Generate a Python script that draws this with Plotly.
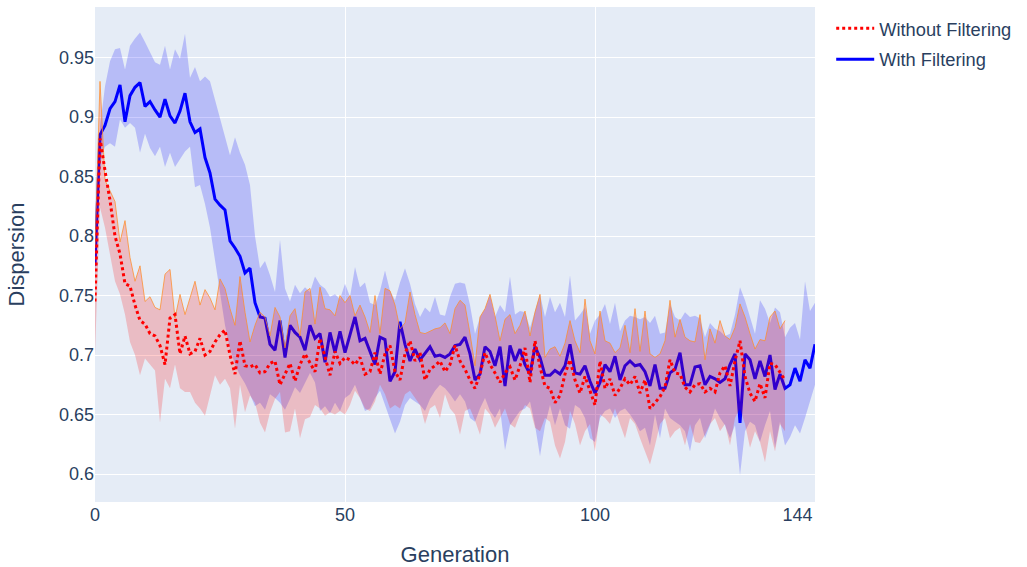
import plotly.graph_objects as go

# ---- data ----
blue_mean = [0.775, 0.885, 0.893, 0.907, 0.913, 0.927, 0.896, 0.918, 0.925, 0.929,
             0.909, 0.913, 0.906, 0.900, 0.915, 0.901, 0.895, 0.905, 0.920, 0.896,
             0.887, 0.890, 0.866, 0.853, 0.831, 0.826, 0.822, 0.796, 0.790, 0.783,
             0.769, 0.773, 0.744, 0.732, 0.731, 0.709, 0.704, 0.729, 0.698, 0.725,
             0.719, 0.715, 0.704, 0.725, 0.714, 0.718, 0.694, 0.719, 0.702, 0.720,
             0.702, 0.718, 0.732, 0.712, 0.714, 0.703, 0.692, 0.715, 0.713, 0.678,
             0.686, 0.728, 0.709, 0.695, 0.705, 0.696, 0.702, 0.707, 0.699, 0.700,
             0.698, 0.701, 0.708, 0.709, 0.715, 0.701, 0.679, 0.684, 0.707, 0.703,
             0.691, 0.707, 0.674, 0.708, 0.695, 0.705, 0.692, 0.684, 0.707, 0.698,
             0.683, 0.683, 0.687, 0.684, 0.691, 0.709, 0.685, 0.684, 0.691, 0.678,
             0.668, 0.677, 0.692, 0.686, 0.699, 0.679, 0.691, 0.695, 0.691, 0.692,
             0.686, 0.674, 0.692, 0.672, 0.672, 0.685, 0.688, 0.702, 0.675, 0.675,
             0.690, 0.691, 0.675, 0.682, 0.680, 0.677, 0.680, 0.692, 0.701, 0.643,
             0.701, 0.696, 0.680, 0.695, 0.682, 0.700, 0.671, 0.684, 0.672, 0.675,
             0.689, 0.678, 0.696, 0.689, 0.709]
blue_upper = [0.795, 0.892, 0.926, 0.947, 0.957, 0.958, 0.940, 0.960, 0.966, 0.971,
              0.963, 0.954, 0.946, 0.944, 0.960, 0.940, 0.957, 0.949, 0.970, 0.933,
              0.942, 0.930, 0.934, 0.930, 0.915, 0.900, 0.883, 0.868, 0.883, 0.870,
              0.860, 0.843, 0.800, 0.773, 0.779, 0.767, 0.753, 0.797, 0.756, 0.745,
              0.759, 0.752, 0.757, 0.753, 0.766, 0.759, 0.756, 0.749, 0.751, 0.747,
              0.760, 0.749, 0.774, 0.757, 0.761, 0.744, 0.742, 0.754, 0.771, 0.754,
              0.746, 0.761, 0.773, 0.760, 0.743, 0.732, 0.740, 0.736, 0.749, 0.734,
              0.733, 0.749, 0.760, 0.761, 0.760, 0.742, 0.718, 0.732, 0.739, 0.751,
              0.732, 0.742, 0.736, 0.766, 0.734, 0.737, 0.736, 0.723, 0.737, 0.751,
              0.732, 0.749, 0.736, 0.744, 0.732, 0.767, 0.729, 0.734, 0.740, 0.718,
              0.729, 0.734, 0.743, 0.726, 0.744, 0.720, 0.729, 0.733, 0.732, 0.730,
              0.732, 0.727, 0.733, 0.718, 0.719, 0.743, 0.732, 0.729, 0.736, 0.732,
              0.733, 0.731, 0.715, 0.727, 0.722, 0.720, 0.716, 0.718, 0.734, 0.757,
              0.746, 0.733, 0.718, 0.746, 0.739, 0.727, 0.740, 0.736, 0.715, 0.723,
              0.727, 0.713, 0.762, 0.737, 0.744]
blue_lower = [0.760, 0.864, 0.875, 0.878, 0.875, 0.898, 0.891, 0.895, 0.891, 0.870,
              0.886, 0.874, 0.867, 0.875, 0.858, 0.870, 0.858, 0.864, 0.871, 0.875,
              0.841, 0.843, 0.827, 0.807, 0.779, 0.751, 0.725, 0.705, 0.692, 0.683,
              0.676, 0.667, 0.657, 0.660, 0.654, 0.667, 0.664, 0.660, 0.654, 0.663,
              0.673, 0.668, 0.677, 0.685, 0.677, 0.653, 0.657, 0.651, 0.660, 0.653,
              0.664, 0.667, 0.675, 0.664, 0.653, 0.655, 0.664, 0.670, 0.658, 0.647,
              0.634, 0.644, 0.658, 0.664, 0.661, 0.658, 0.653, 0.663, 0.670, 0.675,
              0.672, 0.667, 0.661, 0.667, 0.661, 0.647, 0.644, 0.655, 0.664, 0.653,
              0.647, 0.655, 0.620, 0.641, 0.647, 0.653, 0.655, 0.661, 0.641, 0.615,
              0.641, 0.658, 0.641, 0.655, 0.641, 0.638, 0.658, 0.655, 0.647, 0.630,
              0.627, 0.647, 0.653, 0.655, 0.647, 0.653, 0.655, 0.650, 0.644, 0.636,
              0.639, 0.624, 0.650, 0.630, 0.655, 0.647, 0.644, 0.641, 0.636, 0.619,
              0.641, 0.647, 0.630, 0.641, 0.655, 0.647, 0.641, 0.630, 0.641, 0.599,
              0.636, 0.644, 0.641, 0.627, 0.641, 0.653, 0.622, 0.644, 0.624, 0.631,
              0.641, 0.634, 0.647, 0.660, 0.675]

red_mean = [0.745, 0.882, 0.855, 0.830, 0.800, 0.785, 0.760, 0.758, 0.742, 0.729,
            0.726, 0.718, 0.716, 0.708, 0.692, 0.731, 0.734, 0.701, 0.716, 0.701,
            0.703, 0.714, 0.700, 0.703, 0.711, 0.717, 0.721, 0.700, 0.684, 0.712,
            0.691, 0.690, 0.692, 0.685, 0.686, 0.693, 0.695, 0.675, 0.684, 0.693,
            0.678, 0.692, 0.701, 0.693, 0.686, 0.714, 0.698, 0.683, 0.703, 0.693,
            0.698, 0.696, 0.692, 0.698, 0.684, 0.686, 0.702, 0.684, 0.701, 0.708,
            0.686, 0.679, 0.701, 0.712, 0.695, 0.702, 0.679, 0.688, 0.691, 0.695,
            0.686, 0.692, 0.708, 0.695, 0.688, 0.679, 0.672, 0.684, 0.702, 0.692,
            0.685, 0.677, 0.685, 0.690, 0.679, 0.691, 0.706, 0.677, 0.712, 0.690,
            0.674, 0.672, 0.660, 0.666, 0.684, 0.696, 0.679, 0.668, 0.682, 0.670,
            0.658, 0.695, 0.672, 0.680, 0.666, 0.672, 0.680, 0.675, 0.682, 0.668,
            0.679, 0.655, 0.660, 0.665, 0.673, 0.696, 0.685, 0.684, 0.673, 0.669,
            0.675, 0.676, 0.669, 0.672, 0.669, 0.685, 0.691, 0.674, 0.695, 0.712,
            0.682, 0.668, 0.661, 0.676, 0.664, 0.693, 0.692, 0.685, 0.679]
red_upper = [0.790, 0.930, 0.847, 0.838, 0.829, 0.795, 0.813, 0.782, 0.762, 0.775,
             0.745, 0.749, 0.740, 0.738, 0.768, 0.772, 0.731, 0.751, 0.734, 0.748,
             0.762, 0.742, 0.755, 0.748, 0.738, 0.764, 0.756, 0.739, 0.725, 0.766,
             0.736, 0.711, 0.725, 0.736, 0.732, 0.716, 0.740, 0.732, 0.706, 0.733,
             0.739, 0.716, 0.753, 0.756, 0.726, 0.757, 0.739, 0.738, 0.733, 0.750,
             0.744, 0.750, 0.733, 0.742, 0.732, 0.719, 0.750, 0.718, 0.756, 0.754,
             0.742, 0.722, 0.727, 0.753, 0.734, 0.719, 0.718, 0.720, 0.722, 0.723,
             0.727, 0.718, 0.739, 0.746, 0.742, 0.718, 0.691, 0.732, 0.739, 0.751,
             0.733, 0.712, 0.730, 0.734, 0.718, 0.725, 0.737, 0.716, 0.736, 0.751,
             0.698, 0.705, 0.707, 0.699, 0.710, 0.729, 0.712, 0.702, 0.747, 0.712,
             0.701, 0.737, 0.712, 0.710, 0.702, 0.706, 0.725, 0.702, 0.739, 0.703,
             0.737, 0.701, 0.698, 0.701, 0.712, 0.746, 0.715, 0.730, 0.715, 0.712,
             0.711, 0.734, 0.696, 0.722, 0.710, 0.729, 0.716, 0.713, 0.723, 0.743,
             0.732, 0.718, 0.705, 0.713, 0.712, 0.732, 0.737, 0.722, 0.729]
red_lower = [0.700, 0.824, 0.807, 0.785, 0.762, 0.751, 0.734, 0.711, 0.700, 0.683,
             0.697, 0.692, 0.687, 0.643, 0.680, 0.672, 0.692, 0.672, 0.669, 0.669,
             0.660, 0.655, 0.649, 0.666, 0.683, 0.675, 0.680, 0.672, 0.638, 0.675,
             0.652, 0.666, 0.660, 0.643, 0.635, 0.652, 0.663, 0.669, 0.635, 0.636,
             0.655, 0.630, 0.646, 0.648, 0.658, 0.655, 0.649, 0.652, 0.650, 0.653,
             0.650, 0.658, 0.670, 0.664, 0.655, 0.653, 0.661, 0.675, 0.667, 0.655,
             0.658, 0.655, 0.667, 0.670, 0.664, 0.658, 0.642, 0.655, 0.658, 0.647,
             0.667, 0.655, 0.650, 0.633, 0.653, 0.655, 0.645, 0.633, 0.655, 0.650,
             0.639, 0.647, 0.655, 0.642, 0.639, 0.650, 0.658, 0.655, 0.639, 0.636,
             0.647, 0.644, 0.624, 0.613, 0.627, 0.653, 0.642, 0.624, 0.636, 0.642,
             0.619, 0.650, 0.647, 0.642, 0.655, 0.642, 0.630, 0.647, 0.642, 0.630,
             0.619, 0.608, 0.624, 0.642, 0.647, 0.630, 0.636, 0.639, 0.624, 0.642,
             0.627, 0.626, 0.633, 0.642, 0.647, 0.636, 0.642, 0.624, 0.647, 0.655,
             0.642, 0.622, 0.636, 0.627, 0.610, 0.636, 0.619, 0.642, 0.636]

gen_blue = list(range(len(blue_mean)))
gen_red = list(range(len(red_mean)))
x_tickvals = [0, 50, 100, 144]
x_ticktext = ["0", "50", "100", "144" + "\u00a0" * 7]

fig = go.Figure()

# With Filtering band + mean
fig.add_trace(go.Scatter(x=gen_blue, y=blue_upper, mode="lines", line=dict(width=0),
                         showlegend=False, hoverinfo="skip", legendgroup="with"))
fig.add_trace(go.Scatter(x=gen_blue, y=blue_lower, mode="lines", line=dict(width=0),
                         fill="tonexty", fillcolor="rgba(0,0,255,0.2)",
                         showlegend=False, hoverinfo="skip", legendgroup="with"))
fig.add_trace(go.Scatter(x=gen_blue, y=blue_mean, mode="lines", name="With Filtering",
                         line=dict(color="blue", width=3), legendgroup="with", legendrank=2))

# Without Filtering band + mean
fig.add_trace(go.Scatter(x=gen_red, y=red_upper, mode="lines",
                         line=dict(width=1, color="rgba(255,140,40,0.75)"),
                         showlegend=False, hoverinfo="skip", legendgroup="without"))
fig.add_trace(go.Scatter(x=gen_red, y=red_lower, mode="lines", line=dict(width=0),
                         fill="tonexty", fillcolor="rgba(255,0,0,0.2)",
                         showlegend=False, hoverinfo="skip", legendgroup="without"))
fig.add_trace(go.Scatter(x=gen_red, y=red_mean, mode="lines", name="Without Filtering",
                         line=dict(color="red", width=3, dash="dot"),
                         legendgroup="without", legendrank=1))

fig.update_layout(
    width=1027, height=567,
    margin=dict(l=95, r=212, t=7, b=65),
    font=dict(family="Arial, Liberation Sans, sans-serif", size=18, color="#2a3f5f"),
    template="plotly",
    legend=dict(x=1.0225, y=0.994, tracegroupgap=4, itemwidth=38,
                font=dict(size=18.3)),
    xaxis=dict(title=dict(text="Generation", standoff=27), range=[0, 144],
               tickvals=x_tickvals, ticktext=x_ticktext, zeroline=False,
               automargin=False),
    yaxis=dict(title=dict(text="Dispersion", standoff=28), range=[0.5765, 0.9925],
               dtick=0.05, zeroline=False, automargin=False),
)

fig.write_html("out.html")
